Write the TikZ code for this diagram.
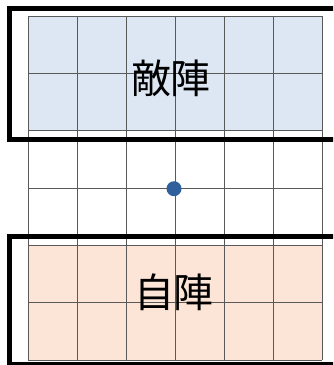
\documentclass[tikz,border=0pt]{standalone}
\usepackage{fontspec}
\newfontfamily\jpfont{Noto Sans CJK JP}
\usepackage{xcolor}
\definecolor{enemyblue}{HTML}{DCE7F3}
\definecolor{homepink}{HTML}{FCE4D6}
\definecolor{dotblue}{HTML}{30609C}

\begin{document}
\begin{tikzpicture}[x=1pt, y=-1pt,
        cell/.style={draw=black!65, line width=0.9pt},
        camp/.style={draw=black, line width=4.8pt},
        camplabel/.style={font=\jpfont\fontsize{40}{40}\selectfont, inner sep=0pt}]
        \useasboundingbox (0,0) rectangle (333,365);
        \clip (0,0) rectangle (333,365);

        % Camps
        \fill[enemyblue] (28,16) rectangle (322,130.7);
        \fill[homepink] (28,245.3) rectangle (322,360);

        % Board
        \foreach \i in {0,...,6} {
            \draw[cell] (28+49*\i,16) -- (28+49*\i,360);
            \draw[cell] (28,16+57.33*\i) -- (322,16+57.33*\i);
        }

        % Labels
        \node[camplabel] (enemy) at (171,78) {敵陣};
        \node[camplabel] (home) at (174,292) {自陣};

        % Center point
        \node[circle, fill=dotblue, minimum size=15pt, inner sep=0pt] (centre) at (174,188.7) {};

        % Frames
        \draw[camp] (9.8,8.5) rectangle (345,139.5);
        \draw[camp] (9.8,236.6) rectangle (345,364);
    \end{tikzpicture}
\end{document}
